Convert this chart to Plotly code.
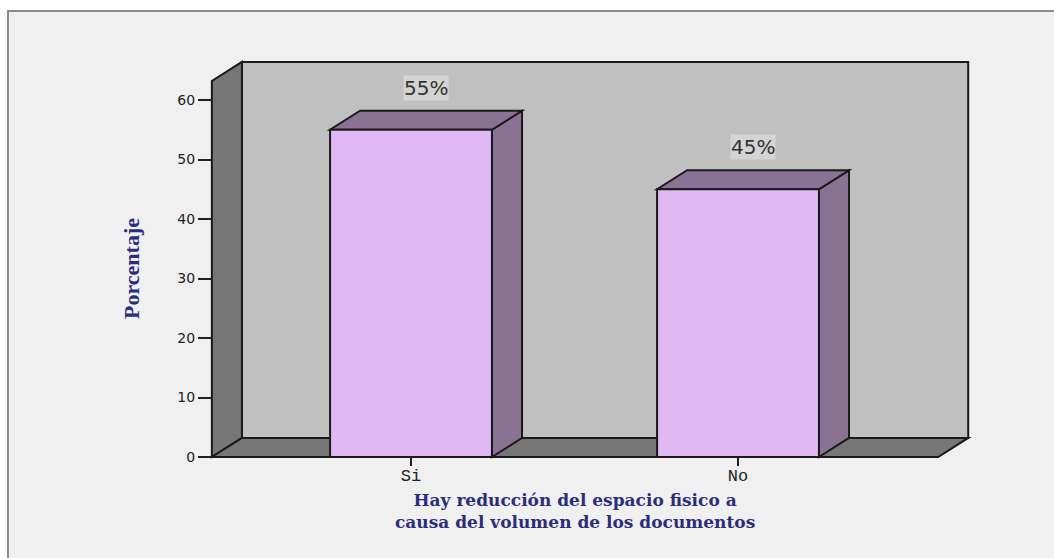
import plotly.graph_objects as go

# ---------------- data ----------------
categories = ["Si", "No"]
values = [55, 45]
value_labels = ["55%", "45%"]
y_ticks = [0, 10, 20, 30, 40, 50, 60]
x_title_lines = ["Hay reducción del espacio fisico a",
                 "causa del volumen de los documentos"]
y_title = "Porcentaje"

# ---------------- layout constants ----------------
W, H = 1054, 558
ML, MR, MT, MB = 208, 80, 58, 97
PW, PH = W - ML - MR, H - MT - MB

X_RANGE = [-0.6208, 1.7217]
Y_RANGE = [-0.672, 67.06]

# 3-D box geometry in data units
XL, XR = -0.609, 1.612      # front-plane x extent
DX, DY = 0.092, 3.2         # depth offset
YTOP = 63.2                 # front top of the wall
BW = 0.2475                 # half bar width

BAR_FRONT = "#e0b9f4"
BAR_SIDE = "#897294"
WALL_BACK = "#c0c0c0"
WALL_DARK = "#777777"
EDGE = "#1a1a1a"
BG = "#f0f0f0"
NAVY = "#2b2d7c"

xpos = list(range(len(categories)))


def poly(pts):
    return "M " + " L ".join(f"{x},{y}" for x, y in pts) + " Z"


shapes = []
# outer frame
shapes.append(dict(type="rect", xref="paper", yref="paper",
                   x0=(8 - ML) / PW, x1=1.3, y0=-0.4, y1=(H - MB - 11) / PH,
                   fillcolor=BG, line=dict(color="#8c8c8c", width=2), layer="below"))
# back wall
shapes.append(dict(type="rect", xref="x", yref="y", x0=XL + DX, x1=XR + DX,
                   y0=DY, y1=YTOP + DY, fillcolor=WALL_BACK,
                   line=dict(color=EDGE, width=2), layer="below"))
# left wall
shapes.append(dict(type="path", xref="x", yref="y",
                   path=poly([(XL, 0), (XL, YTOP), (XL + DX, YTOP + DY), (XL + DX, DY)]),
                   fillcolor=WALL_DARK, line=dict(color=EDGE, width=2), layer="below"))
# floor
shapes.append(dict(type="path", xref="x", yref="y",
                   path=poly([(XL, 0), (XR, 0), (XR + DX, DY), (XL + DX, DY)]),
                   fillcolor=WALL_DARK, line=dict(color=EDGE, width=2), layer="below"))

annotations = []
for c, v, lab in zip(xpos, values, value_labels):
    # side face
    shapes.append(dict(type="path", xref="x", yref="y",
                       path=poly([(c + BW, 0), (c + BW, v), (c + BW + DX, v + DY), (c + BW + DX, DY)]),
                       fillcolor=BAR_SIDE, line=dict(color=EDGE, width=2), layer="below"))
    # top face
    shapes.append(dict(type="path", xref="x", yref="y",
                       path=poly([(c - BW, v), (c + BW, v), (c + BW + DX, v + DY), (c - BW + DX, v + DY)]),
                       fillcolor=BAR_SIDE, line=dict(color=EDGE, width=2), layer="below"))
    annotations.append(dict(x=c + DX / 2, y=v + DY, xref="x", yref="y", text=lab,
                            showarrow=False, xanchor="center", yanchor="bottom", yshift=10,
                            bgcolor="#d4d4d4", borderpad=0,
                            font=dict(family="DejaVu Sans", size=20, color="#333333")))

# axis titles
annotations.append(dict(x=(131 - ML) / PW, y=(H - MB - 269) / PH, xref="paper", yref="paper",
                        text=y_title, textangle=-90, showarrow=False,
                        xanchor="center", yanchor="middle",
                        font=dict(family="Liberation Serif", size=22, color=NAVY, weight="bold")))
annotations.append(dict(x=(575 - ML) / PW, y=(H - MB - 511) / PH,
                        xref="paper", yref="paper", text="<br>".join(x_title_lines),
                        showarrow=False, xanchor="center", yanchor="middle", align="center",
                        font=dict(family="DejaVu Serif", size=17, color=NAVY, weight="bold")))

fig = go.Figure(go.Bar(
    x=xpos, y=values, width=2 * BW,
    marker=dict(color=BAR_FRONT, line=dict(color=EDGE, width=2)),
    hoverinfo="skip", showlegend=False,
))

fig.update_layout(
    width=W, height=H,
    margin=dict(l=ML, r=MR, t=MT, b=MB, pad=0),
    paper_bgcolor="white", plot_bgcolor="rgba(0,0,0,0)",
    shapes=shapes, annotations=annotations,
    xaxis=dict(range=X_RANGE, tickvals=xpos, ticktext=categories,
               anchor="free", position=(H - MB - 457) / PH,
               showgrid=False, zeroline=False, showline=False,
               ticks="outside", ticklen=8, tickwidth=2, tickcolor="#222222",
               ticklabelstandoff=-5,
               tickfont=dict(family="Liberation Mono", size=17, color="#222222")),
    yaxis=dict(range=Y_RANGE, tickvals=y_ticks,
               anchor="free", position=(212 - ML) / PW,
               showgrid=False, zeroline=False, showline=False,
               ticks="outside", ticklen=14, tickwidth=2, tickcolor="#222222",
               tickfont=dict(family="DejaVu Sans", size=14, color="#222222")),
)

fig.write_html("out.html")
